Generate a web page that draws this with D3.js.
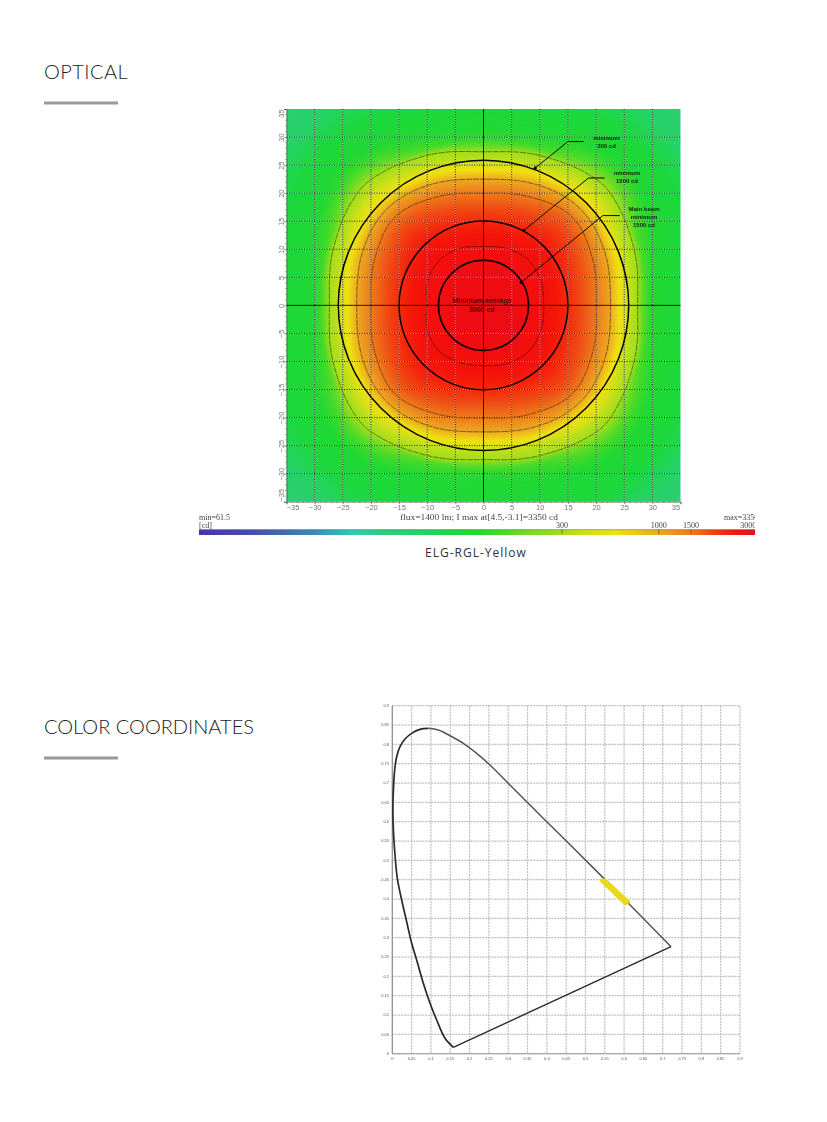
<!DOCTYPE html>
<html><head><meta charset="utf-8">
<script src="https://cdn.jsdelivr.net/npm/d3@7/dist/d3.min.js"></script>
<style>html,body{margin:0;padding:0;background:#fff}svg{display:block}</style>
</head><body>
<svg id="page" width="827" height="1122" viewBox="0 0 827 1122"></svg>
<script>
// ---------- data ----------
const sectionTitles = ["OPTICAL", "COLOR COORDINATES"];
const caption = "ELG-RGL-Yellow";
const gridDegrees = [35,30,25,20,15,10,5,0,-5,-10,-15,-20,-25,-30,-35];
const xDegrees = [-35,-30,-25,-20,-15,-10,-5,0,5,10,15,20,25,30,35];
// candela read along spokes: one row per bearing, one column per radius (degrees)
const spokeRadii = [0,5,10,15,20,22.5,25,27.5,30,35,40,45,50];
const spokeBearings = [0,22.5,45,67.5,90,112.5,135,157.5,180,202.5,225,247.5,270,292.5,315,337.5];
const intensity = [
[3320,3290,3060,2370,1510,1010,565,295,246,229,216,201,186],
[3320,3300,3090,2460,1700,1190,725,368,262,235,221,206,191],
[3320,3290,3100,2600,1950,1450,860,540,305,244,226,205,185],
[3320,3290,3080,2450,1690,1180,720,365,260,234,220,205,190],
[3320,3280,3040,2350,1500,1000,560,295,250,232,218,203,188],
[3320,3280,3080,2450,1690,1180,720,368,260,234,220,205,190],
[3320,3280,3090,2590,1940,1440,855,535,303,243,225,204,184],
[3320,3270,3060,2440,1690,1180,720,365,260,234,220,205,190],
[3320,3270,3000,2340,1500,1005,555,295,245,228,215,200,185],
[3320,3280,3070,2450,1690,1180,722,368,261,234,220,205,190],
[3320,3300,3100,2600,1950,1450,860,540,305,244,225,204,184],
[3320,3310,3090,2470,1700,1190,725,368,262,235,221,206,191],
[3320,3330,3070,2380,1510,1010,570,300,251,233,219,204,189],
[3320,3345,3110,2480,1710,1195,730,370,263,236,222,207,192],
[3320,3350,3120,2610,1960,1455,865,542,306,245,227,206,186],
[3320,3350,3100,2470,1710,1195,728,368,262,235,221,206,191]];
const contourLevels = [300,1000,1500,3000];
const specCircles = [8,15,25.8];
const colorValues = [61.5,300,1000,1500,3000,3350];
const colorPositions = [0,.653,.827,.885,.988,1];
const rampStops = [0,.1,.2,.28,.33,.4,.45,.5,.55,.6,.653,.7,.75,.827,.885,.92,.95,.97,.99,1];
const rampColors = ["#4a34a8","#4450b0","#3a86bc","#2fcdb5","#30cc78","#25d265","#1cd83c","#22d832","#4cda28","#78dc22","#a4de1c","#d2e018","#f0e010","#eca822","#ec7c1c","#f04a14","#f5240c","#f5140a","#f5100c","#ee0c14"];
const legendTicks = [300,1000,1500,3000];
const notes = [
 {lines:["minimum","300 cd"], cx:606.5, y:140, path:[[17.8,29.2],[15,29.2],[9.2,24.5]]},
 {lines:["minimum","1000 cd"], cx:627, y:175.2, path:[[21.5,22.7],[18.65,22.7],[7.16,13.35]]},
 {lines:["Main beam","minimum","1500 cd"], cx:644, y:211, path:[[24.2,16],[21.2,16],[6.7,4.1]]}
];
const centreNote = ["Minimum average","3000 cd"];
const cieTicks = d3.range(0,19).map(i=>+(i*0.05).toFixed(2));
const locusLeft = [[.1579,.0165],[.1364,.0398],[.1149,.0871],[.0976,.1303],[.0803,.1821],[.0631,.2423],[.0501,.2855],[.0372,.3414],[.0243,.3975],[.013,.4535],[.007,.5138],[.0035,.5655],[.0018,.6087],[.0018,.6517],[.0035,.6948],[.0061,.7336],[.0113,.768],[.0199,.7939],[.0329,.8138],[.0501,.8285],[.0717,.8388],[.0933,.8414]];
const locusRight = [[.0933,.8414],[.1191,.8371],[.1494,.8223],[.1838,.8027],[.2184,.7768],[.2529,.7466],[.2961,.7034],[.3478,.6517],[.3996,.6],[.4583,.5423],[.55,.4508],[.65,.3495],[.7215,.2767]];
const purpleLine = [[.1579,.0165],[.7215,.2767]];
const yellowBand = [[.5394,.4475],[.5506,.451],[.6135,.3931],[.6024,.3863]];

// ---------- layout ----------
const svg = d3.select("#page");
const heatBox = {x0:286.5,x1:680.5,y0:109,y1:501.7};
const sx = d3.scaleLinear().domain([-35,35]).range([heatBox.x0,heatBox.x1]);
const sy = d3.scaleLinear().domain([35,-35]).range([heatBox.y0,heatBox.y1]);
const valueToPos = d3.scaleLinear().domain(colorValues).range(colorPositions).clamp(true);
const posToColor = d3.scaleLinear().domain(rampStops).range(rampColors).interpolate(d3.interpolateRgb).clamp(true);
const defs = svg.append("defs");
defs.append("filter").attr("id","soft").append("feGaussianBlur").attr("stdDeviation",0.5);
defs.append("filter").attr("id","softer").append("feGaussianBlur").attr("stdDeviation",0.25);

// titles
const titleY = [79,734], ruleY=[103,758], titleSpacing=[.45,0];
svg.selectAll("text.title").data(sectionTitles).join("text").attr("class","title")
 .attr("x",44).attr("y",(d,i)=>titleY[i]).attr("letter-spacing",(d,i)=>titleSpacing[i]).text(d=>d)
 .attr("font-family","Lato").attr("font-weight",300).attr("font-size",20).attr("fill","#1c1c1c");
svg.selectAll("line.rule").data(sectionTitles).join("line").attr("class","rule")
 .attr("x1",44).attr("x2",118).attr("y1",(d,i)=>ruleY[i]).attr("y2",(d,i)=>ruleY[i])
 .attr("stroke","#999").attr("stroke-width",3);

// field: monotone cubic along each spoke, periodic Catmull-Rom across spokes, both in log space
const logI = intensity.map(r=>r.map(Math.log));
const slopes = logI.map(row=>{
 const n=row.length,d=[],m=new Array(n).fill(0);
 for(let i=0;i<n-1;i++)d.push((row[i+1]-row[i])/(spokeRadii[i+1]-spokeRadii[i]));
 m[0]=d[0];m[n-1]=d[n-2];
 for(let i=1;i<n-1;i++)m[i]=d[i-1]*d[i]<=0?0:2*d[i-1]*d[i]/(d[i-1]+d[i]);
 return m;
});
function along(k,r){
 const R=spokeRadii,n=R.length;
 const i=Math.min(n-2,Math.max(0,d3.bisectRight(R,r)-1));
 const h=R[i+1]-R[i],t=(r-R[i])/h,row=logI[k],m=slopes[k];
 const t2=t*t,t3=t2*t;
 return (2*t3-3*t2+1)*row[i]+(t3-2*t2+t)*h*m[i]+(-2*t3+3*t2)*row[i+1]+(t3-t2)*h*m[i+1];
}
function cr(a,b,c,d,t){return 0.5*((2*b)+(-a+c)*t+(2*a-5*b+4*c-d)*t*t+(-a+3*b-3*c+d)*t*t*t);}
const K=spokeBearings.length;
function field(x,y){
 const r=Math.hypot(x,y);
 let u=Math.atan2(y,x)*180/Math.PI; if(u<0)u+=360;
 u/=360/K; const j=Math.floor(u),t=u-j,w=i=>((i%K)+K)%K;
 return Math.exp(cr(along(w(j-1),r),along(w(j),r),along(w(j+1),r),along(w(j+2),r),t));
}
const W = Math.round(heatBox.x1-heatBox.x0), H=Math.round(heatBox.y1-heatBox.y0);
const cv = document.createElement("canvas"); cv.width=W; cv.height=H;
const ctx = cv.getContext("2d");
const img = ctx.createImageData(W,H);
for(let j=0;j<H;j++)for(let i=0;i<W;i++){
 const c=d3.rgb(posToColor(valueToPos(field(-35+70*(i+.5)/W,35-70*(j+.5)/H))));
 const k=4*(j*W+i); img.data[k]=c.r;img.data[k+1]=c.g;img.data[k+2]=c.b;img.data[k+3]=255;
}
ctx.putImageData(img,0,0);
svg.append("image").attr("x",heatBox.x0).attr("y",heatBox.y0).attr("width",heatBox.x1-heatBox.x0).attr("height",heatBox.y1-heatBox.y0)
 .attr("preserveAspectRatio","none").attr("href",cv.toDataURL());

// contours
const step=.25, gn=Math.round(70/step)+1, vals=new Float64Array(gn*gn);
for(let j=0;j<gn;j++)for(let i=0;i<gn;i++)vals[j*gn+i]=field(-35+i*step,35-j*step);
const contours=d3.contours().size([gn,gn]).thresholds(contourLevels)(vals);
const proj=d3.geoTransform({point(x,y){this.stream.point(sx(-35+(x-.5)*step),sy(35-(y-.5)*step));}});
const heatG=svg.append("g").attr("filter","url(#softer)");
heatG.selectAll("path.iso").data(contours).join("path").attr("class","iso")
 .attr("d",d3.geoPath(proj)).attr("fill","none").attr("stroke","#000").attr("stroke-width",.6).attr("stroke-dasharray","6 0.8").attr("opacity",.8);

// grid
const inner=gridDegrees.filter(d=>Math.abs(d)<35&&d!==0);
[["#fff",1,"none",.45],["#111",1,"1.2 1.3",.9]].forEach(([c,w,da,o])=>{
 heatG.append("g").selectAll("line").data(inner).join("line").attr("x1",d=>sx(d)).attr("x2",d=>sx(d)).attr("y1",heatBox.y0).attr("y2",heatBox.y1).attr("stroke",c).attr("stroke-width",w).attr("stroke-dasharray",da).attr("opacity",o);
 heatG.append("g").selectAll("line").data(inner).join("line").attr("y1",d=>sy(d)).attr("y2",d=>sy(d)).attr("x1",heatBox.x0).attr("x2",heatBox.x1).attr("stroke",c).attr("stroke-width",w).attr("stroke-dasharray",da).attr("opacity",o);
});
heatG.append("line").attr("x1",sx(0)).attr("x2",sx(0)).attr("y1",heatBox.y0).attr("y2",heatBox.y1).attr("stroke","#111").attr("stroke-width",.9);
heatG.append("line").attr("y1",sy(0)).attr("y2",sy(0)).attr("x1",heatBox.x0).attr("x2",heatBox.x1).attr("stroke","#111").attr("stroke-width",.9);

// spec circles
heatG.selectAll("circle.spec").data(specCircles).join("circle").attr("class","spec")
 .attr("cx",sx(0)).attr("cy",sy(0)).attr("r",d=>sx(d)-sx(0)).attr("fill","none").attr("stroke","#050505").attr("stroke-width",1.5);

// leaders and notes
const lineGen=d3.line().x(d=>sx(d[0])).y(d=>sy(d[1]));
notes.forEach(n=>{
 heatG.append("path").attr("d",lineGen(n.path)).attr("fill","none").attr("stroke","#0a0a0a").attr("stroke-width",1);
 const e=n.path[n.path.length-1];
 heatG.append("circle").attr("cx",sx(e[0])).attr("cy",sy(e[1])).attr("r",1.6).attr("fill","#050505");
 n.lines.forEach((t,i)=>heatG.append("text").attr("x",n.cx).attr("y",n.y+i*8.2).attr("text-anchor","middle").attr("font-family","Liberation Sans").attr("font-weight",700).attr("font-size",6).attr("fill","#0a2a0a").text(t));
});
centreNote.forEach((t,i)=>heatG.append("text").attr("x",482).attr("y",302.5+i*9).attr("text-anchor","middle").attr("font-family","Liberation Sans").attr("font-weight",700).attr("font-size",7).attr("fill","#4a0a06").text(t));

// axes
const axisFont="Liberation Serif";
const axB=svg.append("g").attr("transform",`translate(0,${heatBox.y1})`).call(d3.axisBottom(sx).tickValues(xDegrees).tickSize(2.5).tickPadding(0));
const axL=svg.append("g").attr("transform",`translate(${heatBox.x0},0)`).call(d3.axisLeft(sy).tickValues(gridDegrees).tickSize(2.5).tickPadding(1.5));
[axB,axL].forEach(a=>{a.select(".domain").attr("stroke","#444").attr("stroke-width",.6);a.selectAll("line").attr("stroke","#444").attr("stroke-width",.6);
 a.selectAll("text").attr("font-family","Liberation Sans").attr("font-size",7.5).attr("fill","#777");});
axB.selectAll("text").attr("dx",d=>d===-35?6:d===35?-5:0);
axL.selectAll("text").each(function(d){
 const shift=d===35?4:d===-35?-7:0;
 d3.select(this).attr("transform",`translate(-5,${shift}) rotate(-90)`).attr("x",0).attr("y",0).attr("dy",".32em").attr("text-anchor","middle");
});
const minor=d3.range(-35,36).filter(d=>d%5);
svg.append("g").selectAll("line").data(minor).join("line").attr("x1",d=>sx(d)).attr("x2",d=>sx(d)).attr("y1",heatBox.y1).attr("y2",heatBox.y1+1.3).attr("stroke","#555").attr("stroke-width",.6);
svg.append("g").selectAll("line").data(minor).join("line").attr("y1",d=>sy(d)).attr("y2",d=>sy(d)).attr("x1",heatBox.x0-1.3).attr("x2",heatBox.x0).attr("stroke","#555").attr("stroke-width",.6);

// legend
const barX=d3.scaleLinear().domain([0,1]).range([199,755]);
const grad=defs.append("linearGradient").attr("id","ramp");
grad.selectAll("stop").data(rampStops).join("stop").attr("offset",d=>d).attr("stop-color",(d,i)=>rampColors[i]);
defs.append("clipPath").attr("id","legendClip").append("rect").attr("x",190).attr("y",505).attr("width",565).attr("height",40);
const lg=svg.append("g").attr("clip-path","url(#legendClip)").attr("font-family",axisFont).attr("fill","#444").attr("font-size",8);
lg.append("rect").attr("x",199).attr("y",529.5).attr("width",556).attr("height",5.5).attr("fill","url(#ramp)");
lg.append("line").attr("x1",199).attr("x2",755).attr("y1",529.7).attr("y2",529.7).attr("stroke","#666").attr("stroke-width",.5);
lg.selectAll("line.t").data(legendTicks).join("line").attr("class","t").attr("x1",d=>barX(valueToPos(d))).attr("x2",d=>barX(valueToPos(d))).attr("y1",529).attr("y2",534).attr("stroke","#555").attr("stroke-width",.7);
lg.selectAll("text.t").data(legendTicks).join("text").attr("class","t").attr("x",d=>barX(valueToPos(d))).attr("y",528).attr("text-anchor","middle").text(d=>d);
lg.append("text").attr("x",199).attr("y",520).text("min=61.5");
lg.append("text").attr("x",199).attr("y",528).text("[cd]");
lg.append("text").attr("x",400).attr("y",520).attr("textLength",158).attr("lengthAdjust","spacingAndGlyphs").text("flux=1400 lm; I max at[4.5,-3.1]=3350 cd");
lg.append("text").attr("x",724).attr("y",520).text("max=3350");
svg.append("text").attr("x",476).attr("y",557).attr("text-anchor","middle").attr("font-family","Open Sans").attr("font-size",12).attr("letter-spacing",1).attr("fill","#333").text(caption);

// CIE chart
const cx=d3.scaleLinear().domain([0,.9]).range([392.3,740]);
const cy=d3.scaleLinear().domain([0,.9]).range([1053.7,705.7]);
const cie=svg.append("g").attr("filter","url(#soft)");
cie.append("g").selectAll("line").data(cieTicks).join("line").attr("x1",d=>cx(d)).attr("x2",d=>cx(d)).attr("y1",cy(.9)).attr("y2",cy(0)).attr("stroke","#bdbdbd").attr("stroke-width",1.2).attr("stroke-dasharray","2 1");
cie.append("g").selectAll("line").data(cieTicks).join("line").attr("y1",d=>cy(d)).attr("y2",d=>cy(d)).attr("x1",cx(0)).attr("x2",cx(.9)).attr("stroke","#bdbdbd").attr("stroke-width",1.2).attr("stroke-dasharray","2 1");
cie.append("line").attr("x1",cx(0)).attr("x2",cx(0)).attr("y1",cy(.9)).attr("y2",cy(0)).attr("stroke","#8a8a8a").attr("stroke-width",1.1);
cie.append("line").attr("x1",cx(0)).attr("x2",cx(.9)).attr("y1",cy(0)).attr("y2",cy(0)).attr("stroke","#9a9a9a").attr("stroke-width",1.1);
const fmt=d=>String(d);
cie.append("g").selectAll("text").data(cieTicks).join("text").attr("x",d=>cx(d)).attr("y",1059.5).attr("text-anchor","middle").attr("font-family","Liberation Sans").attr("font-size",4).attr("fill","#555").text(fmt);
cie.append("g").selectAll("text").data(cieTicks).join("text").attr("x",389).attr("y",d=>cy(d)+1.4).attr("text-anchor","end").attr("font-family","Liberation Sans").attr("font-size",4).attr("fill","#555").text(fmt);
const cl=d3.line().x(d=>cx(d[0])).y(d=>cy(d[1]));
const smooth=d3.curveCatmullRom.alpha(.5);
cie.append("path").attr("d",cl.curve(smooth)(locusLeft)).attr("fill","none").attr("stroke","#2a2a2a").attr("stroke-width",1.7);
cie.append("path").attr("d",cl.curve(smooth)(locusRight)).attr("fill","none").attr("stroke","#555").attr("stroke-width",1.5);
cie.append("path").attr("d",cl.curve(d3.curveLinear)(purpleLine)).attr("fill","none").attr("stroke","#2a2a2a").attr("stroke-width",1.4);
cie.append("path").attr("d",cl.curve(d3.curveLinearClosed)(yellowBand)).attr("fill","#e8d824").attr("stroke","#e8d824").attr("stroke-width",2.2).attr("stroke-linejoin","round");
</script>
</body></html>
